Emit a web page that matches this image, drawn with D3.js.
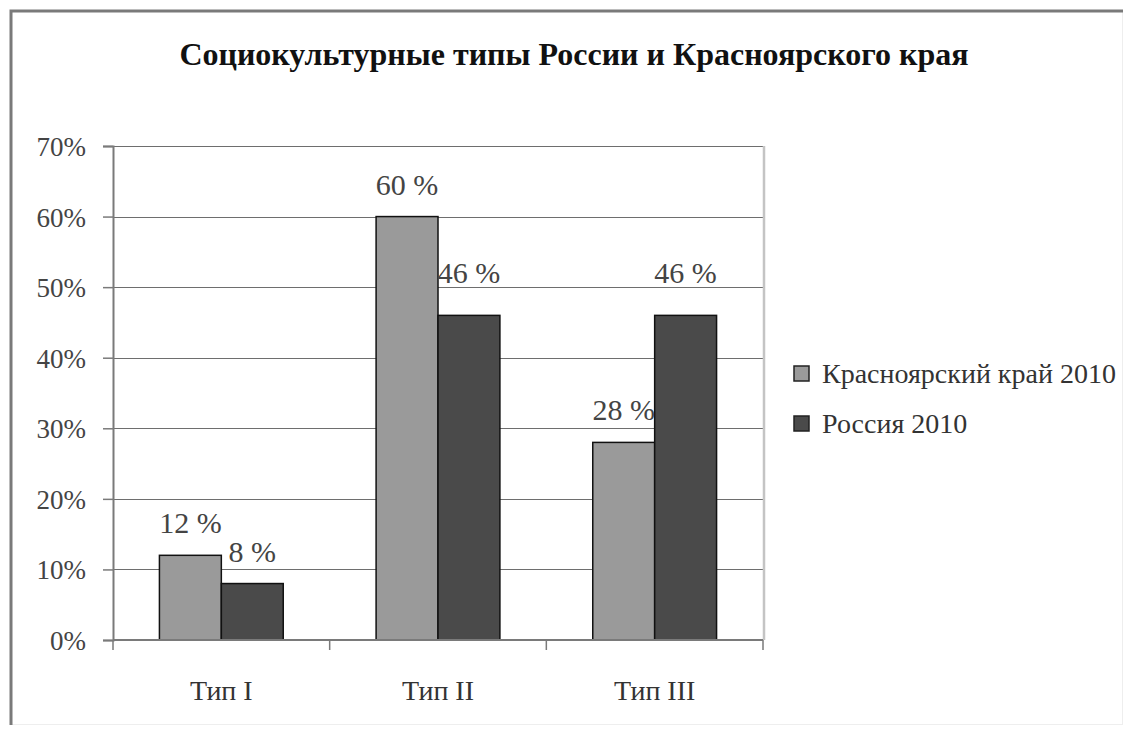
<!DOCTYPE html>
<html><head><meta charset="utf-8">
<script src="https://cdn.jsdelivr.net/npm/d3@7/dist/d3.min.js"></script>
<style>body{margin:0;background:#fff}svg{display:block}</style>
</head><body><svg id="c" width="1133" height="732"></svg>
<script>
const title = "Социокультурные типы России и Красноярского края";
const categories = ["Тип I", "Тип II", "Тип III"];
const seriesNames = ["Красноярский край 2010", "Россия 2010"];
const krasnoyarsk = [12, 60, 28];
const russia = [8, 46, 46];
const yTicks = [0, 10, 20, 30, 40, 50, 60, 70];
const colors = ["#9a9a9a", "#4a4a4a"];
const FONT = `"Liberation Serif"`;

const svg = d3.select("#c");
svg.append("rect").attr("x",10.5).attr("y",10.5).attr("width",1112).attr("height",714)
  .attr("fill","#fff").attr("stroke","#eeeeee").attr("stroke-width",1);
svg.append("path").attr("d","M11,725V11H1123").attr("fill","none").attr("stroke","#7a7a7a").attr("stroke-width",3);

svg.append("text").attr("x",574).attr("y",65).attr("text-anchor","middle").style("font-family",FONT)
  .attr("font-size",32).attr("font-weight","bold").attr("fill","#111").text(title);

const L=113, R=763, T=146, B=640;
const x = d3.scaleBand().domain(categories).range([L,R]).paddingInner(0).paddingOuter(0);
const y = d3.scaleLinear().domain([0,70]).range([B,T]);
const inner = d3.scaleBand().domain([0,1]).range([0, x.bandwidth()]).paddingOuter(0.75).paddingInner(0);

const g = svg.append("g");
g.selectAll("line.grid").data(yTicks.filter(d=>d>0)).join("line")
  .attr("x1",L).attr("x2",R).attr("y1",d=>Math.round(y(d))+0.5).attr("y2",d=>Math.round(y(d))+0.5)
  .attr("stroke","#6e6e6e").attr("stroke-width",1.2);
g.append("line").attr("x1",R+1).attr("x2",R+1).attr("y1",T).attr("y2",B).attr("stroke","#c4c4c4").attr("stroke-width",2.5);

const yAxis = d3.axisLeft(y).tickValues(yTicks).tickFormat(d=>d+"%").tickSize(10).tickPadding(17);
const ya = svg.append("g").attr("transform",`translate(${L},0)`).call(yAxis);
ya.attr("font-family",null).style("font-family",FONT);
ya.select(".domain").attr("stroke","#7a7a7a").attr("stroke-width",2);
ya.selectAll(".tick line").attr("stroke","#7a7a7a").attr("stroke-width",1.5);
ya.selectAll(".tick text").attr("font-size",27).attr("fill","#444").style("font-family",FONT).attr("dy","0.35em");

const data = [];
categories.forEach((c,i)=>{
  data.push({cat:c, s:0, v:krasnoyarsk[i]});
  data.push({cat:c, s:1, v:russia[i]});
});
g.selectAll("rect.bar").data(data).join("rect")
  .attr("x",d=>x(d.cat)+inner(d.s)).attr("width",inner.bandwidth())
  .attr("y",d=>y(d.v)).attr("height",d=>B-y(d.v))
  .attr("fill",d=>colors[d.s]).attr("stroke","#111").attr("stroke-width",1.5);

const xa = svg.append("g").attr("transform",`translate(0,${B})`);
xa.append("line").attr("x1",L).attr("x2",R).attr("stroke","#7a7a7a").attr("stroke-width",2);
xa.selectAll("line.t").data(categories.map(c=>x(c)).concat([R])).join("line")
  .attr("x1",d=>d).attr("x2",d=>d).attr("y1",0).attr("y2",10).attr("stroke","#7a7a7a").attr("stroke-width",1.5);
xa.selectAll("text").data(categories).join("text")
  .attr("x",c=>x(c)+x.bandwidth()/2).attr("y",60).attr("text-anchor","middle").style("font-family",FONT)
  .attr("font-size",28).attr("fill","#333").text(c=>c);

const fs = 30;
g.selectAll("text.lbl").data(data).join("text")
  .attr("x",d=>x(d.cat)+inner(d.s)+inner.bandwidth()/2)
  .attr("y",d=>{
    let base = y(d.v)-22;
    const top = base - fs*0.66;
    yTicks.forEach(t=>{ const gy=y(t); if (gy>top && gy<base+2) base = gy-4; });
    return base;
  })
  .attr("text-anchor","middle").attr("font-size",fs).attr("fill","#444").style("font-family",FONT)
  .text(d=>d.v+" %");

const lg = svg.append("g");
seriesNames.forEach((n,i)=>{
  const ly = 374 + i*50;
  lg.append("rect").attr("x",794).attr("y",ly-8).attr("width",15).attr("height",15)
    .attr("fill",colors[i]).attr("stroke","#222").attr("stroke-width",1.5);
  lg.append("text").attr("x",822).attr("y",ly+9).attr("font-size",28).attr("fill","#333").style("font-family",FONT).text(n);
});
</script></body></html>
